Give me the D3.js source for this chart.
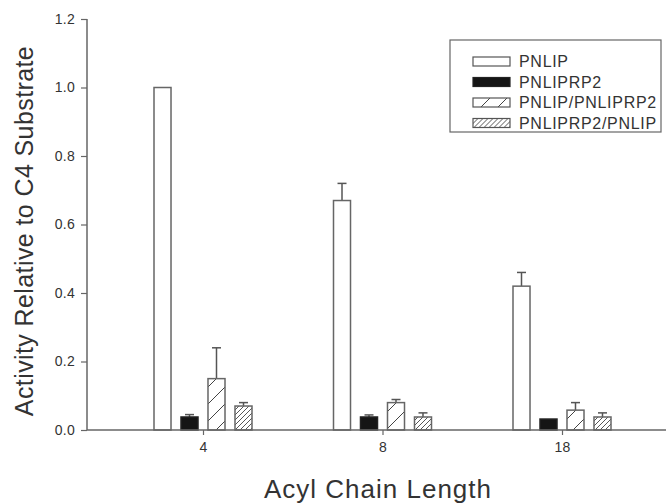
<!DOCTYPE html>
<html>
<head>
<meta charset="utf-8">
<script src="https://cdn.jsdelivr.net/npm/d3@7"></script>
<style>
  body { margin: 0; background: #fff; }
  svg text { font-family: "Liberation Sans", Arial, sans-serif; fill: #333; }
</style>
</head>
<body>
<div id="chart"></div>
<script>
// data
var chainLengths = ["4", "8", "18"];
var seriesNames = ["PNLIP", "PNLIPRP2", "PNLIP/PNLIPRP2", "PNLIPRP2/PNLIP"];
var pnlip        = [1.00, 0.67, 0.42];
var pnlip_err    = [0.00, 0.05, 0.04];
var pnliprp2     = [0.038, 0.038, 0.032];
var pnliprp2_err = [0.007, 0.006, 0.000];
var mix1         = [0.15, 0.08, 0.058];
var mix1_err     = [0.09, 0.009, 0.022];
var mix2         = [0.07, 0.038, 0.038];
var mix2_err     = [0.01, 0.012, 0.012];
var yTicks = [0.0, 0.2, 0.4, 0.6, 0.8, 1.0, 1.2];

var values = [pnlip, pnliprp2, mix1, mix2];
var errors = [pnlip_err, pnliprp2_err, mix1_err, mix2_err];

var W = 670, H = 504;
var svg = d3.select("#chart").append("svg")
  .attr("width", W).attr("height", H);

// hatch patterns
var defs = svg.append("defs");
defs.append("pattern")
  .attr("id", "hatchWide")
  .attr("patternUnits", "userSpaceOnUse")
  .attr("width", 17).attr("height", 17)
  .append("path")
  .attr("d", "M-2,19 L19,-2 M-2,2 L2,-2 M15,19 L19,15")
  .attr("stroke", "#444").attr("stroke-width", 1);
defs.append("pattern")
  .attr("id", "hatchDense")
  .attr("patternUnits", "userSpaceOnUse")
  .attr("width", 5).attr("height", 5)
  .append("path")
  .attr("d", "M-1,6 L6,-1 M-1,1 L1,-1 M4,6 L6,4")
  .attr("stroke", "#444").attr("stroke-width", 0.9);

var fills = ["#fff", "#151515", "url(#hatchWide)", "url(#hatchDense)"];

var x0 = 87, x1 = 666;
var y = d3.scaleLinear().domain([0, 1.2]).range([430, 19]);
var xc = d3.scalePoint().domain(chainLengths).range([203, 562]);
var xs = d3.scaleBand().domain(seriesNames).range([-49, 49]).paddingInner(0.37);

// bars
var rows = [];
seriesNames.forEach(function(s, si){
  chainLengths.forEach(function(c, ci){
    rows.push({s: s, si: si, c: c, v: values[si][ci], e: errors[si][ci]});
  });
});

var g = svg.append("g");
// error bars, upward only
var eb = g.selectAll(".err").data(rows.filter(function(d){ return d.e > 0; }))
  .enter().append("g").attr("class", "err");
eb.append("line")
  .attr("x1", function(d){ return xc(d.c) + xs(d.s) + xs.bandwidth()/2; })
  .attr("x2", function(d){ return xc(d.c) + xs(d.s) + xs.bandwidth()/2; })
  .attr("y1", function(d){ return y(d.v); })
  .attr("y2", function(d){ return y(d.v + d.e); })
  .attr("stroke", "#555").attr("stroke-width", 1.5);
eb.append("line")
  .attr("x1", function(d){ return xc(d.c) + xs(d.s) + xs.bandwidth()/2 - 4.5; })
  .attr("x2", function(d){ return xc(d.c) + xs(d.s) + xs.bandwidth()/2 + 4.5; })
  .attr("y1", function(d){ return y(d.v + d.e); })
  .attr("y2", function(d){ return y(d.v + d.e); })
  .attr("stroke", "#555").attr("stroke-width", 1.5);

g.selectAll("rect.bar").data(rows).enter().append("rect")
  .attr("class", "bar")
  .attr("x", function(d){ return xc(d.c) + xs(d.s); })
  .attr("width", xs.bandwidth())
  .attr("y", function(d){ return y(d.v); })
  .attr("height", function(d){ return y(0) - y(d.v); })
  .attr("fill", function(d){ return fills[d.si]; })
  .attr("stroke", function(d){ return d.si == 1 ? "#222" : "#666"; })
  .attr("stroke-width", 1.5);

// y axis
var yAxis = svg.append("g")
  .attr("transform", "translate(" + x0 + ",0)")
  .call(d3.axisLeft(y).tickValues(yTicks).tickFormat(d3.format(".1f")).tickSize(6).tickPadding(6));
yAxis.select(".domain").attr("stroke", "#666").attr("stroke-width", 1.5).attr("d", "M0," + y(1.2) + "V" + y(0));
yAxis.selectAll(".tick line").attr("stroke", "#666").attr("stroke-width", 1.2);
yAxis.selectAll(".tick text").style("font-size", "14px").style("letter-spacing", "0.3px").attr("fill", "#444");

// x axis
var xAxis = svg.append("g")
  .attr("transform", "translate(0," + y(0) + ")")
  .call(d3.axisBottom(xc).tickSize(5).tickPadding(7));
xAxis.select(".domain").attr("stroke", "#666").attr("stroke-width", 1.5).attr("d", "M" + x0 + ",0H" + x1);
xAxis.selectAll(".tick line").attr("stroke", "#666").attr("stroke-width", 1.2);
xAxis.selectAll(".tick text").style("font-size", "14px").style("letter-spacing", "0.3px").attr("fill", "#444");

// titles
svg.append("text")
  .attr("transform", "translate(33,231) rotate(-90)")
  .attr("text-anchor", "middle")
  .style("font-size", "25px")
  .style("letter-spacing", "0.4px")
  .text("Activity Relative to C4 Substrate");
svg.append("text")
  .attr("x", 378).attr("y", 498)
  .attr("text-anchor", "middle")
  .style("font-size", "26px")
  .style("letter-spacing", "1px")
  .text("Acyl Chain Length");

// legend
var lg = svg.append("g").attr("transform", "translate(450,40)");
lg.append("rect").attr("width", 211).attr("height", 92)
  .attr("fill", "#fff").attr("stroke", "#666").attr("stroke-width", 1.2);
var items = lg.selectAll(".item").data(seriesNames).enter().append("g")
  .attr("transform", function(d, i){ return "translate(23," + (17 + i * 20.5) + ")"; });
items.append("rect")
  .attr("width", 37).attr("height", 9)
  .attr("fill", function(d, i){ return fills[i]; })
  .attr("stroke", function(d, i){ return i == 1 ? "#222" : "#555"; })
  .attr("stroke-width", 1.2);
items.append("text")
  .attr("x", 46).attr("y", 10)
  .style("font-size", "16px")
  .style("letter-spacing", "0.7px")
  .text(function(d){ return d; });
</script>
</body>
</html>
